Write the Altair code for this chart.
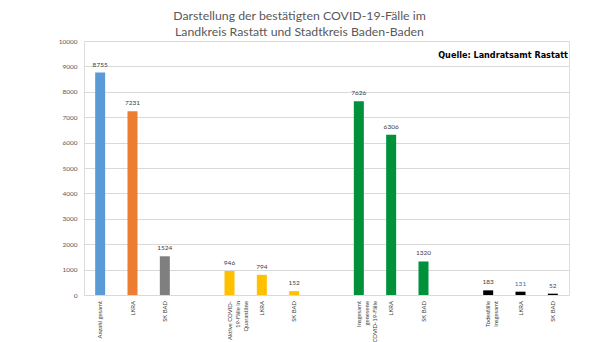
import altair as alt
import pandas as pd

slots = [f"s{i}" for i in range(15)]
keys = ["s0", "s1", "s2", "s4", "s5", "s6", "s8", "s9", "s10", "s12", "s13", "s14"]
labels = ["Anzahl gesamt", "LKRA", "SK BAD",
          "Aktive COVID-|19-Fälle in|Quarantäne", "LKRA", "SK BAD",
          "Insgesamt|genesene|COVID-19-Fälle", "LKRA", "SK BAD",
          "Todesfälle|insgesamt", "LKRA", "SK BAD"]
values = [8755, 7231, 1524, 946, 794, 152, 7626, 6306, 1320, 183, 131, 52]
colors = ["#5B9BD5", "#ED7D31", "#7F7F7F",
          "#FFC000", "#FFC000", "#FFC000",
          "#00913A", "#00913A", "#00913A",
          "#000000", "#000000", "#000000"]
label_colors = ["#404040"] * 10 + ["#2E75B6", "#404040"]

df = pd.DataFrame({"key": keys, "label": labels, "value": values,
                   "color": colors, "lcolor": label_colors})

W, H = 485, 254

x = alt.X("key:N", scale=alt.Scale(domain=slots, paddingInner=0, paddingOuter=0),
          axis=alt.Axis(labels=False, ticks=False, title=None, domain=True,
                        domainColor="#d9d9d9"))
y = alt.Y("value:Q", scale=alt.Scale(domain=[0, 10000]),
          axis=alt.Axis(values=list(range(0, 10001, 1000)), format="d", title=None,
                        ticks=False, domain=False, labelFontSize=6.5,
                        labelColor="#595959", labelPadding=7, gridColor="#d9d9d9",
                        labelFont="Lato"))

base = alt.Chart(df)

bars = base.mark_bar(size=10).encode(x=x, y=y, color=alt.Color("color:N", scale=None))

vals = base.mark_text(baseline="bottom", dy=-5, fontSize=6.5, font="Lato").encode(
    x=x, y=y, text="value:Q", color=alt.Color("lcolor:N", scale=None))

cats = base.mark_text(angle=270, align="right", baseline="middle", lineBreak="|",
                      fontSize=5.9, font="Lato", color="#404040", lineHeight=8).encode(
    x=x, y=alt.value(H + 6), text="label:N")

source = alt.Chart(pd.DataFrame({"t": ["Quelle: Landratsamt Rastatt"]})).mark_text(
    align="right", baseline="middle", fontSize=9, fontWeight="bold",
    font="DejaVu Sans Condensed", color="#000000").encode(
    x=alt.value(W - 1), y=alt.value(14), text="t:N")

chart = alt.layer(bars, vals, cats, source).properties(
    width=W, height=H,
    title=alt.TitleParams(
        text=["Darstellung der bestätigten COVID-19-Fälle im",
              "Landkreis Rastatt und Stadtkreis Baden-Baden"],
        font="Lato", fontSize=12.3, fontWeight="normal", color="#595959",
        anchor="middle", dx=-27, offset=0, lineHeight=16),
    autosize=alt.AutoSizeParams(type="none"),
    padding={"left": 84, "top": 41, "right": 608 - 84 - W, "bottom": 342 - 41 - H},
).configure_view(stroke=None).configure(background="white")

chart.save("out.html", embed_options={"renderer": "svg", "actions": False})
